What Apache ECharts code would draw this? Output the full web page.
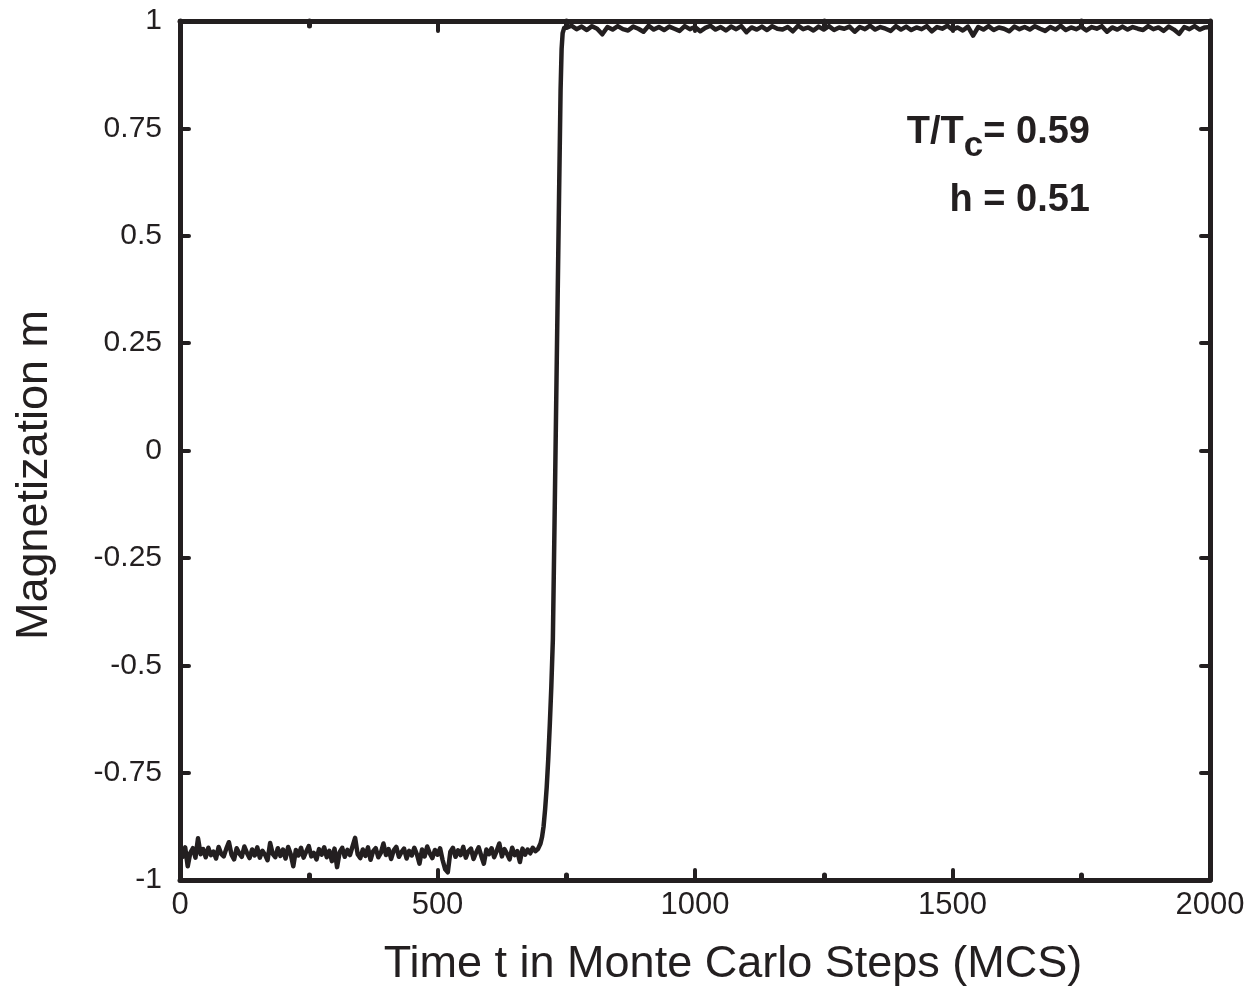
<!DOCTYPE html>
<html>
<head>
<meta charset="utf-8">
<script src="https://cdn.jsdelivr.net/npm/echarts@6/dist/echarts.min.js"></script>
<style>
html,body{margin:0;padding:0;background:#fff;}
#chart{width:1260px;height:992px;}
</style>
</head>
<body>
<div id="chart"></div>
<script>
// ---- data ----
// lower plateau: samples every 5 MCS from t=0 to t=695
var lowStart = 0, lowStep = 5;
var lowValues = [
-0.930,-0.946,-0.924,-0.968,-0.937,-0.926,-0.948,-0.903,-0.940,-0.928,
-0.947,-0.925,-0.942,-0.934,-0.950,-0.923,-0.939,-0.945,-0.927,-0.912,
-0.941,-0.952,-0.926,-0.938,-0.946,-0.922,-0.937,-0.949,-0.929,-0.943,
-0.924,-0.948,-0.932,-0.941,-0.954,-0.914,-0.939,-0.947,-0.926,-0.944,
-0.929,-0.950,-0.923,-0.940,-0.968,-0.930,-0.943,-0.925,-0.948,-0.934,
-0.921,-0.945,-0.937,-0.952,-0.928,-0.941,-0.924,-0.947,-0.932,-0.956,
-0.927,-0.970,-0.935,-0.925,-0.946,-0.930,-0.942,-0.922,-0.902,-0.940,
-0.949,-0.929,-0.944,-0.924,-0.953,-0.933,-0.926,-0.947,-0.937,-0.915,
-0.942,-0.928,-0.951,-0.931,-0.923,-0.946,-0.935,-0.927,-0.950,-0.932,
-0.943,-0.925,-0.940,-0.962,-0.929,-0.945,-0.922,-0.938,-0.949,-0.930,
-0.941,-0.926,-0.954,-0.975,-0.982,-0.934,-0.925,-0.946,-0.931,-0.942,
-0.923,-0.948,-0.933,-0.927,-0.951,-0.936,-0.924,-0.944,-0.962,-0.929,
-0.940,-0.926,-0.947,-0.932,-0.915,-0.945,-0.928,-0.939,-0.952,-0.925,
-0.942,-0.933,-0.958,-0.927,-0.941,-0.929,-0.938,-0.925,-0.933,-0.928
];
// switching region
var switchTimes  = [700, 703, 706, 709, 712, 715, 718, 721, 724, 727, 730, 733, 736, 739, 741, 743, 746];
var switchValues = [-0.915,-0.900,-0.875,-0.835,-0.785,-0.720,-0.640,-0.550,-0.440,-0.190,0.070,0.330,0.590,0.840,0.935,0.972,0.984];
// upper plateau: samples every 10 MCS from t=750 to t=2000
var highStart = 750, highStep = 10;
var highValues = [
0.984,0.989,0.981,0.987,0.979,0.988,0.982,0.969,0.986,0.980,
0.988,0.981,0.978,0.987,0.982,0.975,0.989,0.980,0.986,0.979,
0.987,0.982,0.977,0.988,0.981,0.986,0.976,0.984,0.989,0.980,
0.986,0.978,0.987,0.981,0.988,0.974,0.985,0.980,0.987,0.979,
0.988,0.982,0.980,0.986,0.976,0.989,0.981,0.985,0.978,0.987,
0.980,0.988,0.979,0.985,0.982,0.987,0.975,0.986,0.981,0.989,
0.980,0.986,0.982,0.977,0.988,0.980,0.987,0.979,0.985,0.981,
0.988,0.976,0.986,0.982,0.989,0.980,0.985,0.978,0.987,0.966,
0.986,0.980,0.988,0.979,0.985,0.982,0.976,0.987,0.981,0.986,
0.980,0.988,0.982,0.977,0.986,0.980,0.989,0.979,0.985,0.981,
0.987,0.978,0.986,0.982,0.988,0.975,0.985,0.980,0.987,0.980,
0.986,0.982,0.979,0.988,0.981,0.985,0.977,0.987,0.980,0.970,
0.986,0.981,0.988,0.980,0.985,0.986
];
var xTicks = [0, 500, 1000, 1500, 2000];
var yTicks = [-1, -0.75, -0.5, -0.25, 0, 0.25, 0.5, 0.75, 1];
var xTitle = 'Time t in Monte Carlo Steps (MCS)';
var yTitle = 'Magnetization m';
var annTemp = '0.59';
var annField = '0.51';

// ---- build series data ----
var seriesData = [];
lowValues.forEach(function (v, i) { seriesData.push([lowStart + i * lowStep, v]); });
switchTimes.forEach(function (t, i) { seriesData.push([t, switchValues[i]]); });
highValues.forEach(function (v, i) { seriesData.push([highStart + i * highStep, v]); });

var INK = '#231f20';
var FONT = '"Liberation Sans", Arial, sans-serif';

var axisLine = { show: true, onZero: false, lineStyle: { color: INK, width: 5 } };
function xAxisCfg(pos, labels) {
  return {
    type: 'value', position: pos, min: xTicks[0], max: xTicks[xTicks.length - 1], interval: 500,
    axisLine: axisLine,
    axisTick: { show: true, inside: true, length: 10, lineStyle: { color: INK, width: 4, cap: 'round' } },
    minorTick: { show: true, splitNumber: 2, length: 5, lineStyle: { color: INK, width: 5, cap: 'round' } },
    splitLine: { show: false },
    axisLabel: { show: labels, color: INK, fontSize: 31, fontFamily: FONT, margin: 10,
      formatter: function (v) { return String(v); } }
  };
}
function yAxisCfg(pos, labels) {
  return {
    type: 'value', position: pos, min: yTicks[0], max: yTicks[yTicks.length - 1], interval: 0.25,
    axisLine: axisLine,
    axisTick: { show: true, inside: true, length: 9, lineStyle: { color: INK, width: 4, cap: 'round' } },
    splitLine: { show: false },
    axisLabel: { show: labels, color: INK, fontSize: 30, fontFamily: FONT, margin: 18,
      formatter: function (v) { return String(v); } }
  };
}

var chart = echarts.init(document.getElementById('chart'), null, { renderer: 'canvas' });
chart.setOption({
  backgroundColor: '#ffffff',
  animation: false,
  grid: { left: 180, right: 50, top: 21, bottom: 112, containLabel: false },
  xAxis: [xAxisCfg('bottom', true), xAxisCfg('top', false)],
  yAxis: [yAxisCfg('left', true), yAxisCfg('right', false)],
  series: [{
    type: 'line', xAxisIndex: 0, yAxisIndex: 0, data: seriesData,
    showSymbol: false, symbol: 'none', smooth: false,
    lineStyle: { color: INK, width: 4.5, join: 'round' }, z: 1
  }],
  graphic: [
    { type: 'text', id: 'xt', x: 733, y: 965,
      style: { text: xTitle, font: '45px ' + FONT, fill: INK, textAlign: 'center', textVerticalAlign: 'middle' } },
    { type: 'text', id: 'yt', x: 35, y: 475, rotation: Math.PI / 2,
      style: { text: yTitle, font: '45px ' + FONT, fill: INK, textAlign: 'center', textVerticalAlign: 'middle' } },
    { type: 'text', id: 'a1', x: 1090, y: 133,
      style: { text: 'T/T{s|c}= ' + annTemp, textAlign: 'right', textVerticalAlign: 'middle', fill: INK,
        font: 'bold 38px ' + FONT,
        rich: { s: { fontSize: 35, fontWeight: 'bold', fontFamily: FONT, fill: INK, padding: [26, 0, 0, 0] } } } },
    { type: 'text', id: 'a2', x: 1090, y: 201,
      style: { text: 'h = ' + annField, textAlign: 'right', textVerticalAlign: 'middle', fill: INK,
        font: 'bold 38px ' + FONT } }
  ]
});
</script>
</body>
</html>
